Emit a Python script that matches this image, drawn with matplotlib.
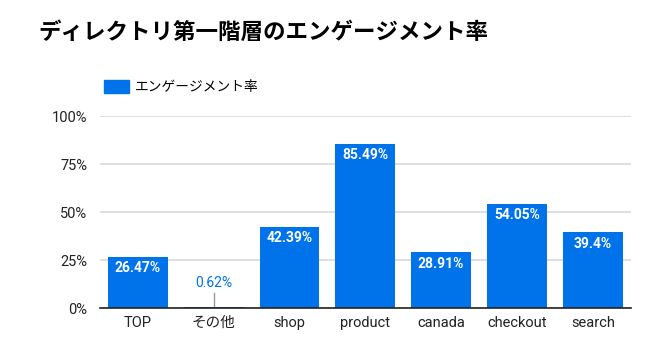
import matplotlib
matplotlib.use("Agg")
import matplotlib.pyplot as plt
from matplotlib.patches import Patch

plt.rcParams['font.family'] = ['Roboto', 'Noto Sans CJK JP', 'DejaVu Sans']

title = "ディレクトリ第一階層のエンゲージメント率"
series_name = "エンゲージメント率"
categories = ["TOP", "その他", "shop", "product", "canada", "checkout", "search"]
values = [26.47, 0.62, 42.39, 85.49, 28.91, 54.05, 39.4]
value_labels = ["26.47%", "0.62%", "42.39%", "85.49%", "28.91%", "54.05%", "39.4%"]
yticks = [0, 25, 50, 75, 100]
ytick_labels = ["0%", "25%", "50%", "75%", "100%"]

color = '#0073ea'

fig = plt.figure(figsize=(6.71, 3.51), dpi=100)
ax = fig.add_axes([0.149, 0.1225, 0.791, 0.547])

x = list(range(len(categories)))
bars = ax.bar(x, values, width=0.79, color=color, zorder=3)
ax.set_xlim(-0.5, len(categories) - 0.5)
ax.set_ylim(0, 100)
ax.set_yticks(yticks)
ax.set_yticklabels(ytick_labels)
ax.set_xticks(x)
ax.set_xticklabels(categories, family=['Roboto', 'Noto Sans CJK JP'])
ax.tick_params(axis='both', length=0, labelsize=10.5, colors='#222222')
ax.tick_params(axis='y', pad=9)
ax.tick_params(axis='x', pad=6)
ax.grid(axis='y', color='#d9d9d9', linewidth=1.2, zorder=0)
for s in ['top', 'right', 'left']:
    ax.spines[s].set_visible(False)
ax.spines['bottom'].set_color('#222222')
ax.spines['bottom'].set_linewidth(1.2)
ax.spines['bottom'].set_zorder(4)

for xi, v, lab in zip(x, values, value_labels):
    if v > 10:
        ax.annotate(lab, (xi, v), xytext=(0, -3), textcoords='offset points',
                    ha='center', va='top', color='white', fontsize=10,
                    fontweight='bold', zorder=5)
    else:
        ax.plot([xi, xi], [v, 8], color='#999999', linewidth=1, zorder=4)
        ax.annotate(lab, (xi, 9.5), ha='center', va='bottom', color=color,
                    fontsize=10, zorder=5)

fig.text(38 / 671, 1 - 32 / 351, title, fontsize=16.2, fontweight='bold',
         family=['Noto Sans CJK JP'], va='center', ha='left', color='black')

fig.legend(handles=[Patch(color=color)], labels=[series_name],
           loc='center left', bbox_to_anchor=(92 / 671, 1 - 87 / 351),
           frameon=False, handlelength=1.8, handleheight=1.1, handletextpad=0.4,
           prop={'family': ['Noto Sans CJK JP'], 'size': 9.9})

fig.savefig('out.png', dpi=100)
